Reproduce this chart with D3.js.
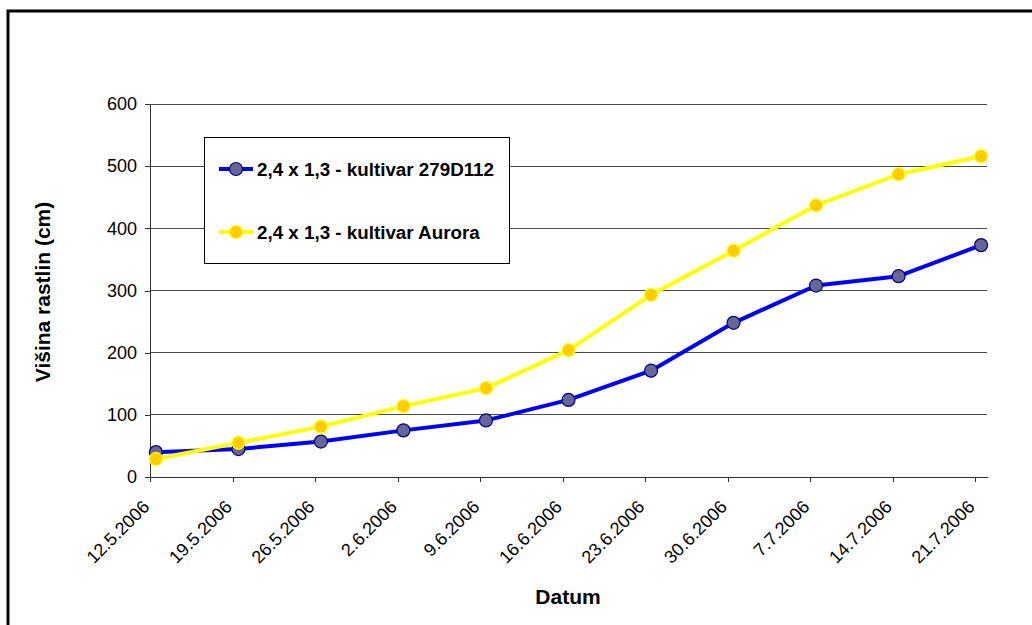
<!DOCTYPE html>
<html>
<head>
<meta charset="utf-8">
<script src="https://cdn.jsdelivr.net/npm/d3@7"></script>
<style>
  html, body { margin: 0; padding: 0; background: #fff; overflow: hidden; }
  svg { display: block; font-family: "Liberation Sans", Arial, sans-serif; }
</style>
</head>
<body>
<svg id="chart" width="1032" height="625"></svg>
<script>
// Measurement dates (weekly), also used as x-axis tick labels
const dates = ["12.5.2006", "19.5.2006", "26.5.2006", "2.6.2006", "9.6.2006", "16.6.2006",
               "23.6.2006", "30.6.2006", "7.7.2006", "14.7.2006", "21.7.2006"];
// Plant height (cm) per cultivar
const cultivar279D112 = [40, 45, 57, 75, 91, 124, 171, 248, 308, 323, 373];
const cultivarAurora  = [29, 55, 81, 114, 143, 204, 293, 364, 437, 487, 516];
const seriesNames = ["2,4 x 1,3 - kultivar 279D112", "2,4 x 1,3 - kultivar Aurora"];
const yTicks = [0, 100, 200, 300, 400, 500, 600];

const parseDate = d3.timeParse("%d.%m.%Y");
const dayDates = dates.map(parseDate);

const svg = d3.select("#chart");
const plot = { left: 150, right: 987, top: 104, bottom: 477 };

// Outer chart frame (runs past the right and bottom edge)
svg.append("rect")
  .attr("x", 8).attr("y", 11)
  .attr("width", 1060).attr("height", 660)
  .attr("fill", "none").attr("stroke", "#000").attr("stroke-width", 3);

// Date axis: each day is a slot, points sit in the middle of their day
const x = d3.scaleTime()
  .domain([dayDates[0], d3.timeDay.offset(dayDates[dayDates.length - 1], 1)])
  .range([plot.left, plot.right]);
const xMid = d => x(d3.timeHour.offset(d, 12));

const y = d3.scaleLinear().domain([0, 600]).range([plot.bottom, plot.top]);

// Horizontal gridlines
svg.append("g")
  .selectAll("line")
  .data(yTicks.filter(v => v > 0))
  .join("line")
  .attr("x1", plot.left).attr("x2", plot.right)
  .attr("y1", d => y(d)).attr("y2", d => y(d))
  .attr("stroke", "#4a4a4a").attr("stroke-width", 1)
  .attr("shape-rendering", "crispEdges");

// Y axis
const yAxis = svg.append("g")
  .attr("transform", `translate(${plot.left},0)`)
  .call(d3.axisLeft(y).tickValues(yTicks).tickSize(5).tickPadding(8).tickSizeOuter(0));
yAxis.select(".domain").attr("stroke", "#333").attr("shape-rendering", "crispEdges");
yAxis.selectAll(".tick line").attr("stroke", "#333").attr("shape-rendering", "crispEdges");
yAxis.selectAll(".tick text")
  .attr("font-size", 18).attr("fill", "#000")
  .attr("font-family", "'Liberation Sans', Arial, sans-serif");

// X axis
const xAxis = svg.append("g")
  .attr("transform", `translate(0,${plot.bottom})`)
  .call(d3.axisBottom(x).tickValues(dayDates).tickSize(5).tickSizeOuter(0)
    .tickFormat((d, i) => dates[i]));
xAxis.select(".domain").attr("stroke", "#333").attr("shape-rendering", "crispEdges");
xAxis.selectAll(".tick line").attr("stroke", "#333").attr("shape-rendering", "crispEdges");
xAxis.selectAll(".tick text")
  .attr("font-size", 18).attr("fill", "#000")
  .attr("font-family", "'Liberation Sans', Arial, sans-serif")
  .attr("text-anchor", "end")
  .attr("dy", null)
  .attr("y", 0)
  .attr("transform", "translate(0,31) rotate(-45)");

// Axis titles
svg.append("text")
  .attr("x", 568).attr("y", 604)
  .attr("text-anchor", "middle")
  .attr("font-size", 21).attr("font-weight", "bold")
  .text("Datum");
svg.append("text")
  .attr("transform", "translate(50,292) rotate(-90)")
  .attr("text-anchor", "middle")
  .attr("font-size", 21).attr("font-weight", "bold")
  .text("Višina rastlin (cm)");

const styles = [
  { line: "#0000ff", fill: "#666699", stroke: "#000080", values: cultivar279D112 },
  { line: "#ffff00", fill: "#ffcc00", stroke: "#ffff00", values: cultivarAurora }
];

const lineGen = d3.line().x(d => xMid(d.date)).y(d => y(d.value));

styles.forEach(s => {
  const pts = s.values.map((v, i) => ({ date: dayDates[i], value: v }));
  svg.append("path")
    .datum(pts)
    .attr("d", lineGen)
    .attr("fill", "none")
    .attr("stroke", s.line)
    .attr("stroke-width", 4)
    .attr("stroke-linejoin", "round");
  svg.append("g")
    .selectAll("circle")
    .data(pts)
    .join("circle")
    .attr("cx", d => xMid(d.date))
    .attr("cy", d => y(d.value))
    .attr("r", 6.5)
    .attr("fill", s.fill)
    .attr("stroke", s.stroke)
    .attr("stroke-width", 1.2);
});

// Legend
const legend = svg.append("g").attr("transform", "translate(204,137)");
legend.append("rect")
  .attr("x", 0.5).attr("y", 0.5)
  .attr("width", 305).attr("height", 126)
  .attr("fill", "#fff").attr("stroke", "#000").attr("stroke-width", 1);
styles.forEach((s, i) => {
  const ly = 32 + i * 63;
  legend.append("line")
    .attr("x1", 15).attr("x2", 49)
    .attr("y1", ly).attr("y2", ly)
    .attr("stroke", s.line).attr("stroke-width", 4);
  legend.append("circle")
    .attr("cx", 32).attr("cy", ly).attr("r", 6.5)
    .attr("fill", s.fill).attr("stroke", s.stroke).attr("stroke-width", 1.2);
  legend.append("text")
    .attr("x", 53).attr("y", ly)
    .attr("dy", "0.35em")
    .attr("font-size", 18.8).attr("font-weight", "bold")
    .text(seriesNames[i]);
});
</script>
</body>
</html>
